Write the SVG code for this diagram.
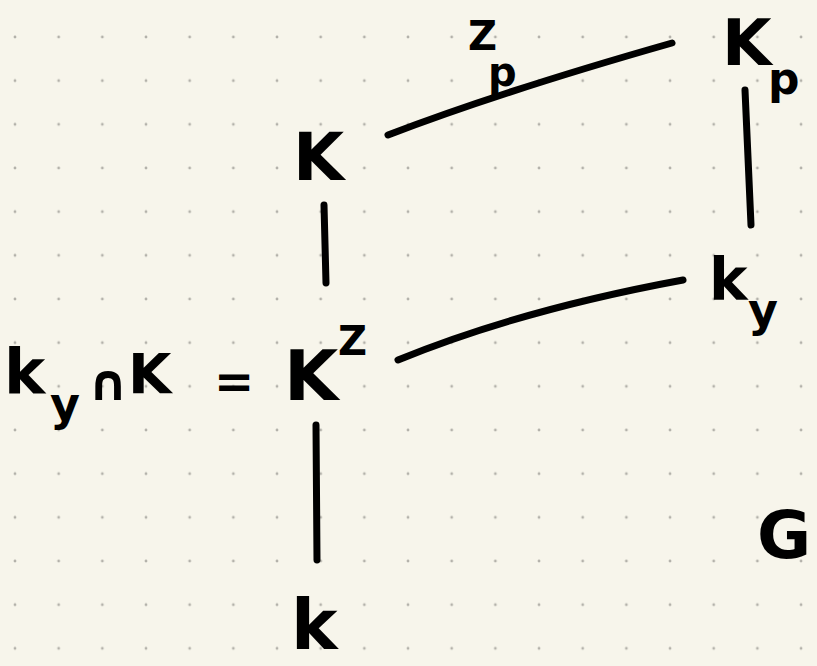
<svg xmlns="http://www.w3.org/2000/svg" width="817" height="666" viewBox="0 0 817 666">
<defs>
<pattern id="dots" x="15" y="37" width="43.67" height="43.67" patternUnits="userSpaceOnUse">
<circle cx="0" cy="0" r="1.4" fill="#b3b1aa"/>
<circle cx="43.67" cy="0" r="1.4" fill="#b3b1aa"/>
<circle cx="0" cy="43.67" r="1.4" fill="#b3b1aa"/>
<circle cx="43.67" cy="43.67" r="1.4" fill="#b3b1aa"/>
</pattern>
<style>
text{font-family:"DejaVu Sans","Noto Sans",sans-serif;font-weight:bold;fill:#000}
.ln{fill:none;stroke:#000;stroke-width:7;stroke-linecap:round;stroke-linejoin:round}
</style>
</defs>
<rect width="817" height="666" fill="#f7f5eb"/>
<rect width="817" height="666" fill="url(#dots)"/>
<g id="connectors">
<path class="ln" d="M388,135 Q500,92 672,43"/>
<path class="ln" d="M324,205 L326,283"/>
<path class="ln" d="M745,90 L751,225"/>
<path class="ln" d="M398,360 Q520,310 683,280"/>
<path class="ln" d="M316,425 L317,560"/>
</g>
<g id="label-Zp"><text x="468" y="50" font-size="40">Z</text><text x="488" y="86" font-size="40">p</text></g>
<g id="node-Kp"><text x="722" y="65" font-size="64">K</text><text x="768" y="94" font-size="44">p</text></g>
<g id="node-K"><text x="293" y="180" font-size="66">K</text></g>
<g id="node-ky"><text x="709" y="300" font-size="58">k</text><text x="748" y="326" font-size="46">y</text></g>
<g id="node-KZ"><text x="284" y="400" font-size="70">K</text><text x="338" y="355" font-size="40">Z</text></g>
<g id="label-eq"><text x="4" y="393" font-size="62">k</text><text x="50" y="420" font-size="46">y</text><text x="88" y="400" font-size="50">∩</text><text x="128" y="393" font-size="56">K</text><text x="214" y="398" font-size="48">=</text></g>
<g id="node-k"><text x="291" y="649" font-size="70">k</text></g>
<g id="label-G"><text x="757" y="558" font-size="66">G</text></g>
</svg>
